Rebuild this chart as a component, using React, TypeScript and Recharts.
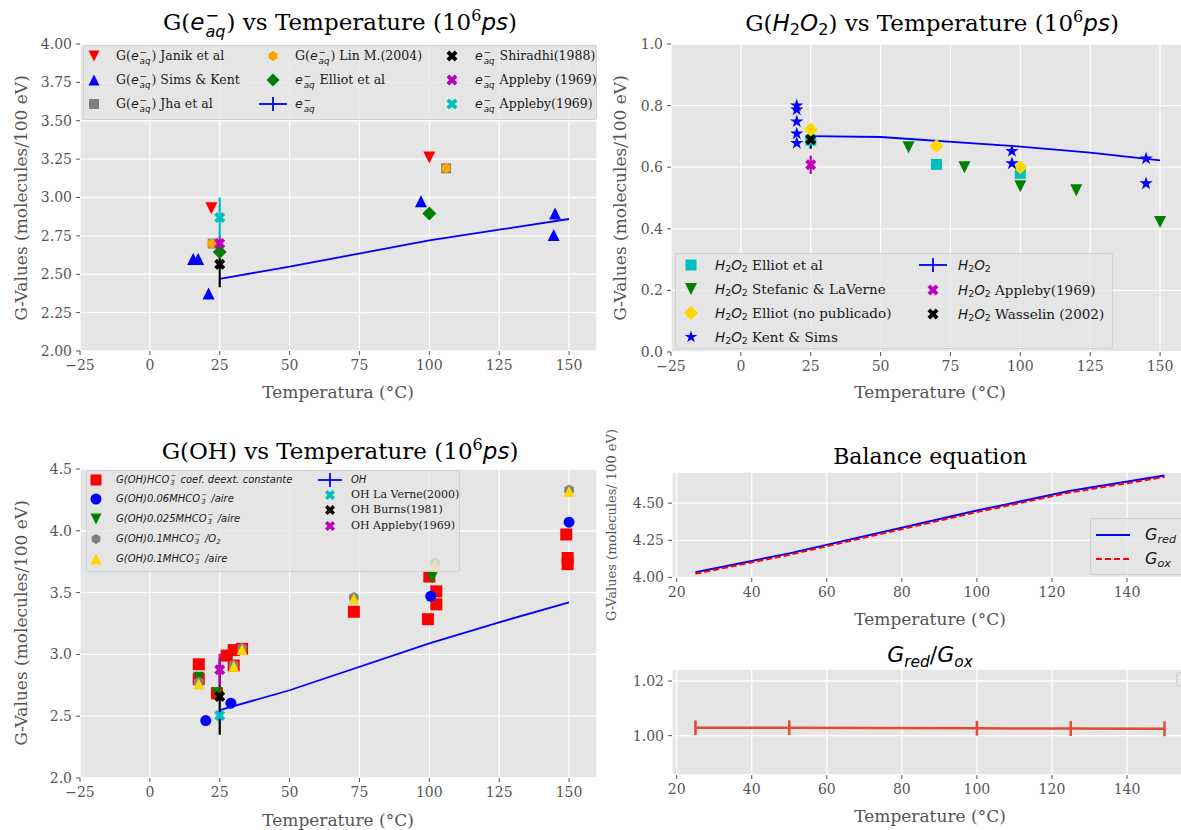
import React from 'react';
import { ComposedChart, Scatter, Line, XAxis, YAxis, CartesianGrid, ErrorBar } from 'recharts';

const SERIF = '"DejaVu Serif", serif';
const SANS = '"DejaVu Sans", sans-serif';
const BG = '#E5E5E5';
const TICK = '#555555';
const MINUS = '\u2212';

// ---------- G(e-aq) vs temperature ----------
const eaqJanik = [{ x: 22, y: 2.93 }, { x: 100, y: 3.26 }];
const eaqSimsKent = [
  { x: 15.5, y: 2.6 }, { x: 17.3, y: 2.6 }, { x: 21, y: 2.375 },
  { x: 97, y: 2.975 }, { x: 145, y: 2.895 }, { x: 144.5, y: 2.755 },
];
const eaqJha = [{ x: 22.5, y: 2.7 }, { x: 106, y: 3.19 }];
const eaqLin = [{ x: 22.2, y: 2.7 }, { x: 106, y: 3.19 }];
const eaqElliot = [{ x: 25, y: 2.645 }, { x: 100, y: 2.895 }];
const eaqModelT = [25, 50, 100, 125, 150];
const eaqModelG = [2.47, 2.55, 2.72, 2.79, 2.86];
const eaqShiradhi = [{ x: 25, y: 2.565, err: 0.15 }];
const eaqAppleby = [{ x: 25, y: 2.7, err: 0.05 }];
const eaqApplebyB = [{ x: 25, y: 2.87, err: 0.13 }];

// ---------- G(H2O2) vs temperature ----------
const h2o2ElliotEtAl = [{ x: 25, y: 0.688 }, { x: 70, y: 0.609 }, { x: 100, y: 0.58 }];
const h2o2Stefanic = [
  { x: 60, y: 0.665 }, { x: 80, y: 0.6 }, { x: 100, y: 0.538 }, { x: 120, y: 0.525 }, { x: 150, y: 0.422 },
];
const h2o2ElliotNP = [{ x: 25, y: 0.722 }, { x: 70, y: 0.669 }, { x: 100, y: 0.6 }];
const h2o2KentSims = [
  { x: 20, y: 0.8 }, { x: 20, y: 0.787 }, { x: 20, y: 0.748 }, { x: 20, y: 0.709 }, { x: 20, y: 0.678 },
  { x: 97, y: 0.652 }, { x: 97, y: 0.612 }, { x: 145, y: 0.628 }, { x: 145, y: 0.547 },
];
const h2o2ModelT = [25, 50, 100, 125, 150];
const h2o2ModelG = [0.701, 0.698, 0.667, 0.647, 0.622];
const h2o2Appleby = [{ x: 25, y: 0.608, err: 0.03 }];
const h2o2Wasselin = [{ x: 25, y: 0.69, err: 0.03 }];

// ---------- G(OH) vs temperature ----------
const ohConstante = [
  { x: 17.5, y: 2.92 }, { x: 17.5, y: 2.8 }, { x: 24, y: 2.685 }, { x: 27.5, y: 2.99 },
  { x: 30, y: 3.035 }, { x: 33, y: 3.045 }, { x: 30, y: 2.91 }, { x: 73, y: 3.345 },
  { x: 100, y: 3.63 }, { x: 102.5, y: 3.51 }, { x: 102.5, y: 3.405 }, { x: 99.5, y: 3.285 },
  { x: 149, y: 3.97 }, { x: 149.5, y: 3.78 }, { x: 149.5, y: 3.73 },
];
const oh006Aire = [{ x: 20, y: 2.465 }, { x: 29, y: 2.605 }, { x: 100.5, y: 3.47 }, { x: 150, y: 4.07 }];
const oh0025Aire = [{ x: 17.5, y: 2.815 }, { x: 24, y: 2.69 }, { x: 101, y: 3.62 }];
const oh01O2 = [
  { x: 17.5, y: 2.775 }, { x: 30, y: 2.915 }, { x: 33, y: 3.05 }, { x: 73, y: 3.46 }, { x: 102, y: 3.74 }, { x: 150, y: 4.33 },
];
const oh01Aire = [
  { x: 17.5, y: 2.76 }, { x: 30, y: 2.905 }, { x: 33, y: 3.04 }, { x: 73, y: 3.45 }, { x: 102, y: 3.73 }, { x: 150, y: 4.32 },
];
const ohModelT = [25, 50, 100, 125, 150];
const ohModelG = [2.55, 2.71, 3.09, 3.26, 3.42];
const ohLaVerne = [{ x: 25, y: 2.505, err: 0.05 }];
const ohBurns = [{ x: 25, y: 2.66, err: 0.31 }];
const ohAppleby = [{ x: 25, y: 2.875, err: 0.13 }];

// ---------- balance ----------
const balT = [25, 50, 100, 125, 150];
const balGred = [4.035, 4.162, 4.45, 4.583, 4.686];
const balGox = [4.025, 4.152, 4.44, 4.573, 4.676];
const ratioVal = [1.0029, 1.0029, 1.0027, 1.0026, 1.0025];
const ratioErr = [0.0027, 0.0027, 0.0027, 0.0027, 0.0027];

// ---------- tick labels ----------
const xTicksWide = [-25, 0, 25, 50, 75, 100, 125, 150];
const xTicksNarrow = [20, 40, 60, 80, 100, 120, 140];
const yTicksEaq = [2, 2.25, 2.5, 2.75, 3, 3.25, 3.5, 3.75, 4];
const yTicksH2O2 = [0, 0.2, 0.4, 0.6, 0.8, 1];
const yTicksOH = [2, 2.5, 3, 3.5, 4, 4.5];
const yTicksBal = [4, 4.25, 4.5];
const yTicksRatio = [1, 1.02];

const toXY = (xs: number[], ys: number[]) => xs.map((x, i) => ({ x, y: ys[i] }));
const eaqModel = toXY(eaqModelT, eaqModelG);
const h2o2Model = toXY(h2o2ModelT, h2o2ModelG);
const ohModel = toXY(ohModelT, ohModelG);
const balRed = toXY(balT, balGred);
const balOx = toXY(balT, balGox);
const ratioData = balT.map((x, i) => ({ x, y: ratioVal[i], err: ratioErr[i] }));

const fmtX = (v: number) => (v < 0 ? MINUS + Math.abs(v) : String(v));
const fmt1 = (v: number) => v.toFixed(1);
const fmt2 = (v: number) => v.toFixed(2);

// ---------- marker drawing ----------
function markerEl(kind: string, cx: number, cy: number, s: number, color: string) {
  const h = s / 2;
  const pts = (arr: number[][]) => arr.map(([a, b]) => `${(cx + a).toFixed(2)},${(cy + b).toFixed(2)}`).join(' ');
  switch (kind) {
    case 'v':
      return <polygon points={pts([[-h, -h], [h, -h], [0, h]])} fill={color} />;
    case '^':
      return <polygon points={pts([[-h, h], [h, h], [0, -h]])} fill={color} />;
    case 's':
      return <rect x={cx - h} y={cy - h} width={s} height={s} fill={color} />;
    case 'D':
      return <polygon points={pts([[0, -h], [h, 0], [0, h], [-h, 0]])} fill={color} />;
    case 'o':
      return <circle cx={cx} cy={cy} r={h} fill={color} />;
    case 'h': {
      const arr: number[][] = [];
      for (let k = 0; k < 6; k++) {
        const a = ((-90 + 60 * k) * Math.PI) / 180;
        arr.push([h * Math.cos(a), h * Math.sin(a)]);
      }
      return <polygon points={pts(arr)} fill={color} />;
    }
    case '*': {
      const arr: number[][] = [];
      for (let k = 0; k < 10; k++) {
        const r = k % 2 === 0 ? h : h * 0.382;
        const a = ((-90 + 36 * k) * Math.PI) / 180;
        arr.push([r * Math.cos(a), r * Math.sin(a)]);
      }
      return <polygon points={pts(arr)} fill={color} />;
    }
    case 'X': {
      const unit = [
        [-1, -2], [0, -1], [1, -2], [2, -1], [1, 0], [2, 1],
        [1, 2], [0, 1], [-1, 2], [-2, 1], [-1, 0], [-2, -1],
      ];
      return <polygon points={pts(unit.map(([a, b]) => [(a / 4) * s, (b / 4) * s]))} fill={color} />;
    }
    default:
      return <circle cx={cx} cy={cy} r={h} fill={color} />;
  }
}

const shapeOf = (kind: string, size: number, color: string) => (p: any) => {
  if (!p || p.cx == null || p.cy == null) return <g />;
  return markerEl(kind, p.cx, p.cy, size, color);
};

// ---------- panel ----------
const YW = 70;
const XH = 40;
const PT = 12;
const PR = 12;
const tickStyle = { fill: TICK, fontSize: 14, fontFamily: SERIF };

type PanelProps = {
  left: number; top: number; w: number; h: number;
  xDomain: number[]; xTicks: number[];
  yDomain: number[]; yTicks: number[];
  yFmt: (v: number) => string;
  children: React.ReactNode;
};

function Panel(p: PanelProps) {
  return (
    <div style={{ position: 'absolute', left: p.left - YW, top: p.top - PT }}>
      <ComposedChart width={YW + p.w + PR} height={PT + p.h + XH} margin={{ top: PT, right: PR, bottom: 0, left: 0 }}>
        <CartesianGrid fill={BG} fillOpacity={1} stroke="#FFFFFF" strokeWidth={1.3} />
        <XAxis
          type="number" dataKey="x" domain={p.xDomain} ticks={p.xTicks} allowDataOverflow interval={0}
          height={XH} axisLine={false} tickLine={{ stroke: TICK }} tickSize={4} tickMargin={5}
          tick={tickStyle} tickFormatter={fmtX}
        />
        <YAxis
          type="number" dataKey="y" domain={p.yDomain} ticks={p.yTicks} allowDataOverflow interval={0}
          width={YW} axisLine={false} tickLine={{ stroke: TICK }} tickSize={4} tickMargin={4}
          tick={tickStyle} tickFormatter={p.yFmt}
        />
        {p.children}
      </ComposedChart>
    </div>
  );
}

// ---------- text helpers ----------
type TxtProps = {
  x: number; y: number; size: number; family?: string; color?: string;
  anchor?: 'start' | 'middle'; rotate?: boolean; children: React.ReactNode;
};
function Txt({ x, y, size, family = SERIF, color = '#000', anchor = 'middle', rotate = false, children }: TxtProps) {
  const tx = anchor === 'middle' ? '-50%' : '0';
  return (
    <div
      style={{
        position: 'absolute', left: x, top: y, whiteSpace: 'nowrap', fontSize: size, fontFamily: family,
        color, lineHeight: 1.25, transform: `translate(${tx}, -50%)${rotate ? ' rotate(-90deg)' : ''}`,
      }}
    >
      {children}
    </div>
  );
}

const SupSub = ({ sup, sub }: { sup: React.ReactNode; sub: React.ReactNode }) => (
  <span
    style={{
      display: 'inline-flex', flexDirection: 'column', alignItems: 'flex-start', fontSize: '0.7em',
      lineHeight: 0.95, verticalAlign: 'middle', margin: '0 1px',
    }}
  >
    <span>{sup}</span>
    <span>{sub}</span>
  </span>
);
const subSt: React.CSSProperties = { fontSize: '0.7em', verticalAlign: '-0.3em', lineHeight: 0 };
const supSt: React.CSSProperties = { fontSize: '0.7em', verticalAlign: '0.55em', lineHeight: 0 };

const Eaq = () => (
  <span style={{ fontFamily: SANS }}>
    <i>e</i>
    <SupSub sup={MINUS} sub={<i>aq</i>} />
  </span>
);
const H2O2 = () => (
  <span style={{ fontFamily: SANS }}>
    <i>H</i><span style={subSt}>2</span><i>O</i><span style={subSt}>2</span>
  </span>
);
const HCO3 = () => (
  <span>
    HCO<SupSub sup={MINUS} sub="3" />
  </span>
);
const Ps = () => (
  <span>
    (10<span style={supSt}>6</span>
    <i style={{ fontFamily: SANS }}>ps</i>)
  </span>
);
const GSub = ({ s }: { s: string }) => (
  <span style={{ fontFamily: SANS, fontStyle: 'italic' }}>
    G<span style={subSt}>{s}</span>
  </span>
);

// ---------- legends ----------
type LegItem = {
  mx: number; my: number; tx: number; ty?: number; kind: string; size: number; color: string;
  label: React.ReactNode; line?: boolean; dash?: string; lineLen?: number;
};

function LegendBox({ box, items, fontSize, family = SERIF }: { box?: number[]; items: LegItem[]; fontSize: number; family?: string }) {
  return (
    <>
      {box && (
        <div
          style={{
            position: 'absolute', left: box[0], top: box[1], width: box[2] - box[0], height: box[3] - box[1],
            background: 'rgba(229,229,229,0.8)', border: '1px solid rgba(204,204,204,0.8)', borderRadius: 3,
            boxSizing: 'border-box',
          }}
        />
      )}
      <svg width={1} height={1} style={{ position: 'absolute', left: 0, top: 0, overflow: 'visible' }}>
        {items.map((it, i) => {
          if (it.line) {
            const L = (it.lineLen ?? 28) / 2;
            return (
              <g key={i}>
                <line x1={it.mx - L} x2={it.mx + L} y1={it.my} y2={it.my} stroke={it.color} strokeWidth={1.8} strokeDasharray={it.dash} />
                {it.kind === '+' && (
                  <line x1={it.mx} x2={it.mx} y1={it.my - 7} y2={it.my + 7} stroke={it.color} strokeWidth={1.8} />
                )}
              </g>
            );
          }
          return <g key={i}>{markerEl(it.kind, it.mx, it.my, it.size, it.color)}</g>;
        })}
      </svg>
      {items.map((it, i) => (
        <Txt key={i} x={it.tx} y={it.ty ?? it.my} size={fontSize} family={family} color="#1a1a1a" anchor="start">
          {it.label}
        </Txt>
      ))}
    </>
  );
}

const legEaq: LegItem[] = [
  { mx: 94, my: 56, tx: 116, kind: 'v', size: 11, color: '#FF0000', label: <>G(<Eaq />) Janik et al</> },
  { mx: 94, my: 80, tx: 116, kind: '^', size: 11, color: '#0000FF', label: <>G(<Eaq />) Sims &amp; Kent</> },
  { mx: 94, my: 104, tx: 116, kind: 's', size: 10, color: '#808080', label: <>G(<Eaq />) Jha et al</> },
  { mx: 273, my: 56, tx: 295, kind: 'h', size: 10, color: '#FFA500', label: <>G(<Eaq />) Lin M.(2004)</> },
  { mx: 273, my: 80, tx: 295, kind: 'D', size: 13, color: '#008000', label: <><Eaq /> Elliot et al</> },
  { mx: 273, my: 104, tx: 295, kind: '+', size: 0, color: '#0000FF', line: true, label: <Eaq /> },
  { mx: 452, my: 56, tx: 475, kind: 'X', size: 11, color: '#000000', label: <><Eaq /> Shiradhi(1988)</> },
  { mx: 452, my: 80, tx: 475, kind: 'X', size: 11, color: '#BF00BF', label: <><Eaq /> Appleby (1969)</> },
  { mx: 452, my: 104, tx: 475, kind: 'X', size: 11, color: '#00BFBF', label: <><Eaq /> Appleby(1969)</> },
];

const legH2O2: LegItem[] = [
  { mx: 691, my: 265, tx: 715, kind: 's', size: 11, color: '#00BFBF', label: <><H2O2 /> Elliot et al</> },
  { mx: 691, my: 289, tx: 715, kind: 'v', size: 12, color: '#008000', label: <><H2O2 /> Stefanic &amp; LaVerne</> },
  { mx: 691, my: 313, tx: 715, kind: 'D', size: 14, color: '#FFD700', label: <><H2O2 /> Elliot (no publicado)</> },
  { mx: 691, my: 337, tx: 715, kind: '*', size: 13, color: '#0000FF', label: <><H2O2 /> Kent &amp; Sims</> },
  { mx: 933, my: 265, tx: 958, kind: '+', size: 0, color: '#0000FF', line: true, label: <H2O2 /> },
  { mx: 933, my: 290, tx: 958, kind: 'X', size: 11, color: '#BF00BF', label: <><H2O2 /> Appleby(1969)</> },
  { mx: 933, my: 314, tx: 958, kind: 'X', size: 11, color: '#000000', label: <><H2O2 /> Wasselin (2002)</> },
];

const legOHmath: LegItem[] = [
  { mx: 96, my: 480, tx: 116, kind: 's', size: 11, color: '#FF0000', label: <i>G(OH)<HCO3 /> coef. deext. constante</i> },
  { mx: 96, my: 499, tx: 116, kind: 'o', size: 11, color: '#0000FF', label: <i>G(OH)0.06M<HCO3 /> /aire</i> },
  { mx: 96, my: 519, tx: 116, kind: 'v', size: 11, color: '#008000', label: <i>G(OH)0.025M<HCO3 /> /aire</i> },
  { mx: 96, my: 539, tx: 116, kind: 'h', size: 10, color: '#808080', label: <i>G(OH)0.1M<HCO3 /> /O<span style={subSt}>2</span></i> },
  { mx: 96, my: 559, tx: 116, kind: '^', size: 11, color: '#FFD700', label: <i>G(OH)0.1M<HCO3 /> /aire</i> },
  { mx: 330, my: 480, tx: 351, kind: '+', size: 0, color: '#0000FF', line: true, lineLen: 24, label: <i>OH</i> },
];
const legOHtext: LegItem[] = [
  { mx: 330, my: 495, tx: 351, kind: 'X', size: 10, color: '#00BFBF', label: 'OH La Verne(2000)' },
  { mx: 330, my: 510, tx: 351, kind: 'X', size: 10, color: '#000000', label: 'OH Burns(1981)' },
  { mx: 330, my: 526, tx: 351, kind: 'X', size: 10, color: '#BF00BF', label: 'OH Appleby(1969)' },
];

const legBal: LegItem[] = [
  { mx: 1113, my: 535, tx: 1145, kind: '-', size: 0, color: '#0000FF', line: true, lineLen: 34, label: <GSub s="red" /> },
  { mx: 1113, my: 559, tx: 1145, kind: '-', size: 0, color: '#FF0000', line: true, lineLen: 34, dash: '6 3', label: <GSub s="ox" /> },
];

export default function App() {
  return (
    <div style={{ position: 'relative', width: 1181, height: 830, overflow: 'hidden', background: '#FFFFFF' }}>
      <style>{'body{margin:0}'}</style>

      {/* G(e-aq) */}
      <Panel left={80} top={44} w={517} h={307} xDomain={[-25, 160]} xTicks={xTicksWide} yDomain={[2, 4]} yTicks={yTicksEaq} yFmt={fmt2}>
        <Scatter data={eaqJanik} shape={shapeOf('v', 12, '#FF0000')} isAnimationActive={false} />
        <Scatter data={eaqSimsKent} shape={shapeOf('^', 12, '#0000FF')} isAnimationActive={false} />
        <Scatter data={eaqJha} shape={shapeOf('s', 10, '#808080')} isAnimationActive={false} />
        <Scatter data={eaqLin} shape={shapeOf('h', 10, '#FFA500')} isAnimationActive={false} />
        <Scatter data={eaqElliot} shape={shapeOf('D', 14, '#008000')} isAnimationActive={false} />
        <Line data={eaqModel} dataKey="y" type="linear" stroke="#0000FF" strokeWidth={1.8} dot={false} activeDot={false} isAnimationActive={false} />
        <Scatter data={eaqShiradhi} shape={shapeOf('X', 11, '#000000')} isAnimationActive={false}>
          <ErrorBar dataKey="err" direction="y" width={0} stroke="#000000" strokeWidth={2.2} isAnimationActive={false} />
        </Scatter>
        <Scatter data={eaqAppleby} shape={shapeOf('X', 11, '#BF00BF')} isAnimationActive={false}>
          <ErrorBar dataKey="err" direction="y" width={0} stroke="#BF00BF" strokeWidth={2.2} isAnimationActive={false} />
        </Scatter>
        <Scatter data={eaqApplebyB} shape={shapeOf('X', 11, '#00BFBF')} isAnimationActive={false}>
          <ErrorBar dataKey="err" direction="y" width={0} stroke="#00BFBF" strokeWidth={2.2} isAnimationActive={false} />
        </Scatter>
      </Panel>

      {/* G(H2O2) */}
      <Panel left={671} top={44} w={517} h={308} xDomain={[-25, 160]} xTicks={xTicksWide} yDomain={[0, 1]} yTicks={yTicksH2O2} yFmt={fmt1}>
        <Scatter data={h2o2ElliotEtAl} shape={shapeOf('s', 11, '#00BFBF')} isAnimationActive={false} />
        <Scatter data={h2o2Stefanic} shape={shapeOf('v', 12, '#008000')} isAnimationActive={false} />
        <Scatter data={h2o2ElliotNP} shape={shapeOf('D', 14, '#FFD700')} isAnimationActive={false} />
        <Scatter data={h2o2KentSims} shape={shapeOf('*', 14, '#0000FF')} isAnimationActive={false} />
        <Line data={h2o2Model} dataKey="y" type="linear" stroke="#0000FF" strokeWidth={1.8} dot={false} activeDot={false} isAnimationActive={false} />
        <Scatter data={h2o2Appleby} shape={shapeOf('X', 11, '#BF00BF')} isAnimationActive={false}>
          <ErrorBar dataKey="err" direction="y" width={0} stroke="#BF00BF" strokeWidth={2.2} isAnimationActive={false} />
        </Scatter>
        <Scatter data={h2o2Wasselin} shape={shapeOf('X', 11, '#000000')} isAnimationActive={false}>
          <ErrorBar dataKey="err" direction="y" width={0} stroke="#000000" strokeWidth={2.2} isAnimationActive={false} />
        </Scatter>
      </Panel>

      {/* G(OH) */}
      <Panel left={80} top={469} w={517} h={309} xDomain={[-25, 160]} xTicks={xTicksWide} yDomain={[2, 4.5]} yTicks={yTicksOH} yFmt={fmt1}>
        <Scatter data={ohConstante} shape={shapeOf('s', 12, '#FF0000')} isAnimationActive={false} />
        <Scatter data={oh006Aire} shape={shapeOf('o', 11, '#0000FF')} isAnimationActive={false} />
        <Scatter data={oh0025Aire} shape={shapeOf('v', 11, '#008000')} isAnimationActive={false} />
        <Scatter data={oh01O2} shape={shapeOf('h', 11, '#808080')} isAnimationActive={false} />
        <Scatter data={oh01Aire} shape={shapeOf('^', 11, '#FFD700')} isAnimationActive={false} />
        <Line data={ohModel} dataKey="y" type="linear" stroke="#0000FF" strokeWidth={1.8} dot={false} activeDot={false} isAnimationActive={false} />
        <Scatter data={ohLaVerne} shape={shapeOf('X', 11, '#00BFBF')} isAnimationActive={false}>
          <ErrorBar dataKey="err" direction="y" width={0} stroke="#00BFBF" strokeWidth={2.2} isAnimationActive={false} />
        </Scatter>
        <Scatter data={ohBurns} shape={shapeOf('X', 11, '#000000')} isAnimationActive={false}>
          <ErrorBar dataKey="err" direction="y" width={0} stroke="#000000" strokeWidth={2.2} isAnimationActive={false} />
        </Scatter>
        <Scatter data={ohAppleby} shape={shapeOf('X', 11, '#BF00BF')} isAnimationActive={false}>
          <ErrorBar dataKey="err" direction="y" width={0} stroke="#BF00BF" strokeWidth={2.2} isAnimationActive={false} />
        </Scatter>
      </Panel>

      {/* Balance equation */}
      <Panel left={672} top={472} w={516} h={106} xDomain={[18.75, 156.25]} xTicks={xTicksNarrow} yDomain={[3.996, 4.71]} yTicks={yTicksBal} yFmt={fmt2}>
        <Line data={balRed} dataKey="y" type="linear" stroke="#0000FF" strokeWidth={2} dot={false} activeDot={false} isAnimationActive={false} />
        <Line data={balOx} dataKey="y" type="linear" stroke="#FF0000" strokeWidth={2} strokeDasharray="6 3" dot={false} activeDot={false} isAnimationActive={false} />
      </Panel>

      {/* Gred / Gox */}
      <Panel left={672} top={669} w={516} h={106} xDomain={[18.75, 156.25]} xTicks={xTicksNarrow} yDomain={[0.9856, 1.0244]} yTicks={yTicksRatio} yFmt={fmt2}>
        <Line data={ratioData} dataKey="y" type="linear" stroke="#E24A33" strokeWidth={2.5} dot={false} activeDot={false} isAnimationActive={false}>
          <ErrorBar dataKey="err" direction="y" width={0} stroke="#E24A33" strokeWidth={2.5} isAnimationActive={false} />
        </Line>
      </Panel>

      {/* titles */}
      <Txt x={340} y={23} size={23}>G(<Eaq />) vs Temperature <Ps /></Txt>
      <Txt x={932} y={23} size={23}>G(<H2O2 />) vs Temperature <Ps /></Txt>
      <Txt x={340} y={451} size={23}>G(OH) vs Temperature <Ps /></Txt>
      <Txt x={930} y={457} size={22}>Balance equation</Txt>
      <Txt x={930} y={655} size={22}><GSub s="red" />/<GSub s="ox" /></Txt>

      {/* axis labels */}
      <Txt x={338} y={393} size={17} color={TICK}>Temperatura (°C)</Txt>
      <Txt x={930} y={393} size={17} color={TICK}>Temperature (°C)</Txt>
      <Txt x={338} y={821} size={17} color={TICK}>Temperature (°C)</Txt>
      <Txt x={930} y={620} size={17} color={TICK}>Temperature (°C)</Txt>
      <Txt x={930} y={817} size={17} color={TICK}>Temperature (°C)</Txt>
      <Txt x={22} y={198} size={17} color={TICK} rotate>G-Values (molecules/100 eV)</Txt>
      <Txt x={621} y={198} size={17} color={TICK} rotate>G-Values (molecules/100 eV)</Txt>
      <Txt x={22} y={623} size={17} color={TICK} rotate>G-Values (molecules/100 eV)</Txt>
      <Txt x={612} y={525} size={13} color={TICK} rotate>G-Values (molecules/ 100 eV)</Txt>

      {/* legends */}
      <LegendBox box={[83, 45, 597, 120]} items={legEaq} fontSize={12.5} />
      <LegendBox box={[675, 253, 1113, 349]} items={legH2O2} fontSize={13.5} />
      <LegendBox box={[86, 470, 460, 572]} items={legOHmath} fontSize={10} family={SANS} />
      <LegendBox items={legOHtext} fontSize={11} />
      <LegendBox box={[1090, 518, 1200, 575]} items={legBal} fontSize={16} family={SANS} />
      <div
        style={{
          position: 'absolute', left: 1176, top: 672, width: 30, height: 12,
          background: 'rgba(229,229,229,0.8)', border: '1px solid rgba(204,204,204,0.8)', borderRadius: 3,
        }}
      />
    </div>
  );
}
